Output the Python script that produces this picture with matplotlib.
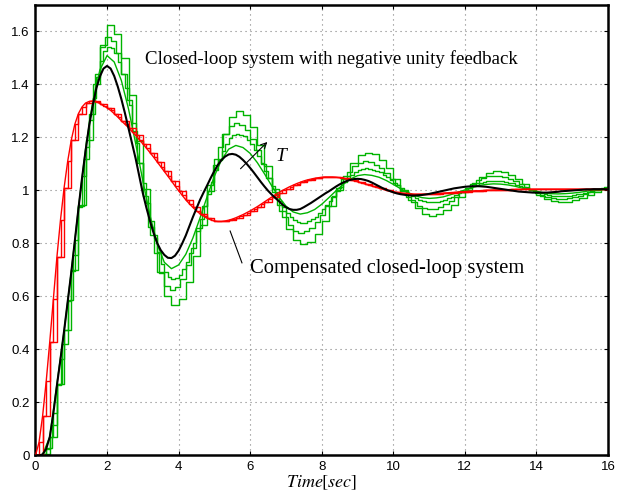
import matplotlib
matplotlib.use('Agg')
import numpy as np
import matplotlib.pyplot as plt

plt.rcParams['mathtext.fontset'] = 'stix'

# ---------------- data ----------------
# continuous closed-loop step response (sampled every 0.1 s)
black_dt = 0.1
black_v = [0.000, 0.000, 0.004, 0.025, 0.070, 0.160, 0.265, 0.365, 0.470, 0.580,
           0.690, 0.810, 0.930, 1.045, 1.150, 1.245, 1.320, 1.385, 1.430, 1.460,
           1.470, 1.460, 1.432, 1.392, 1.345, 1.292, 1.235, 1.178, 1.120, 1.055,
           0.990, 0.935, 0.885, 0.840, 0.802, 0.775, 0.757, 0.746, 0.745, 0.754,
           0.773, 0.800, 0.830, 0.865, 0.900, 0.933, 0.965, 0.993, 1.020, 1.048,
           1.074, 1.097, 1.115, 1.128, 1.136, 1.138, 1.135, 1.127, 1.115, 1.101,
           1.085, 1.068, 1.050, 1.032, 1.015, 0.999, 0.985, 0.972, 0.960, 0.947,
           0.937, 0.930, 0.927, 0.927, 0.930, 0.937, 0.945, 0.953, 0.962, 0.971,
           0.980, 0.989, 0.997, 1.006, 1.015, 1.023, 1.030, 1.036, 1.040, 1.043,
           1.044, 1.043, 1.040, 1.036, 1.030, 1.023, 1.016, 1.009, 1.003, 0.998,
           0.993, 0.989, 0.986, 0.984, 0.982, 0.981, 0.981, 0.982, 0.983, 0.985,
           0.987, 0.990, 0.993, 0.996, 0.999, 1.002, 1.005, 1.008, 1.010, 1.012,
           1.014, 1.015, 1.016, 1.016, 1.016, 1.015, 1.014, 1.012, 1.010, 1.008,
           1.006, 1.004, 1.002, 1.000, 0.998, 0.996, 0.995, 0.994, 0.993, 0.992,
           0.992, 0.992, 0.992, 0.992, 0.993, 0.994, 0.995, 0.997, 0.998, 0.999,
           1.000, 1.001, 1.002, 1.003, 1.004, 1.004, 1.005, 1.005, 1.005, 1.005,
           1.004]

# sampled systems (uncompensated), sampling periods T
g1_T = 0.05   # drawn through values every 0.2 s
g1_dt = 0.2
g1_v = [0, 0.004, 0.07, 0.27, 0.47, 0.692, 0.932, 1.157, 1.335, 1.455,
        1.509, 1.485, 1.415, 1.308, 1.177, 1.037, 0.906, 0.799, 0.729, 0.705,
        0.719, 0.759, 0.821, 0.897, 0.978, 1.054, 1.116, 1.156, 1.170, 1.162,
        1.140, 1.105, 1.063, 1.018, 0.976, 0.941, 0.919, 0.911, 0.916, 0.928,
        0.948, 0.973, 0.999, 1.023, 1.043, 1.056, 1.060, 1.057, 1.050, 1.038,
        1.023, 1.007, 0.993, 0.981, 0.973, 0.970, 0.972, 0.976, 0.984, 0.993,
        1.002, 1.011, 1.019, 1.023, 1.025, 1.024, 1.021, 1.016, 1.009, 1.003,
        0.997, 0.991, 0.988, 0.987, 0.988, 0.990, 0.993, 0.997, 1.001, 1.004,
        1.007]

g2_T = 0.1
g2_v = [0, 0, 0.004, 0.025, 0.07, 0.16, 0.265, 0.365, 0.472, 0.583,
        0.695, 0.815, 0.936, 1.055, 1.165, 1.265, 1.35, 1.43, 1.49, 1.528,
        1.543, 1.536, 1.517, 1.484, 1.440, 1.386, 1.324, 1.254, 1.180, 1.104,
        1.028, 0.954, 0.885, 0.822, 0.768, 0.724, 0.692, 0.672, 0.665, 0.669,
        0.682, 0.702, 0.729, 0.763, 0.802, 0.846, 0.892, 0.940, 0.987, 1.033,
        1.077, 1.116, 1.150, 1.177, 1.197, 1.210, 1.214, 1.211, 1.204, 1.191,
        1.175, 1.154, 1.130, 1.103, 1.075, 1.046, 1.016, 0.988, 0.961, 0.937,
        0.916, 0.900, 0.887, 0.880, 0.877, 0.879, 0.883, 0.891, 0.901, 0.914,
        0.929, 0.945, 0.962, 0.980, 0.998, 1.015, 1.032, 1.046, 1.059, 1.069,
        1.077, 1.081, 1.083, 1.082, 1.079, 1.074, 1.068, 1.060, 1.051, 1.041,
        1.030, 1.019, 1.008, 0.997, 0.987, 0.978, 0.970, 0.964, 0.959, 0.956,
        0.955, 0.956, 0.958, 0.961, 0.965, 0.970, 0.976, 0.982, 0.989, 0.996,
        1.003, 1.010, 1.017, 1.022, 1.027, 1.032, 1.035, 1.036, 1.037, 1.037,
        1.035, 1.033, 1.030, 1.027, 1.022, 1.018, 1.013, 1.008, 1.002, 0.997,
        0.993, 0.989, 0.985, 0.982, 0.980, 0.978, 0.978, 0.978, 0.979, 0.981,
        0.982, 0.985, 0.987, 0.990, 0.993, 0.997, 1.000, 1.003, 1.006, 1.008,
        1.011]

g3_T = 0.15
g3_v = [0, 0.002, 0.03, 0.115, 0.27, 0.42, 0.585, 0.755, 0.94, 1.12,
        1.29, 1.44, 1.54, 1.581, 1.565, 1.517, 1.441, 1.342, 1.226, 1.103,
        0.980, 0.864, 0.765, 0.689, 0.641, 0.625, 0.636, 0.667, 0.717, 0.783,
        0.859, 0.940, 1.021, 1.098, 1.163, 1.213, 1.244, 1.255, 1.248, 1.227,
        1.195, 1.151, 1.101, 1.048, 0.995, 0.944, 0.901, 0.869, 0.848, 0.841,
        0.846, 0.859, 0.880, 0.908, 0.941, 0.976, 1.010, 1.043, 1.071, 1.092,
        1.105, 1.110, 1.107, 1.098, 1.084, 1.065, 1.043, 1.020, 0.997, 0.975,
        0.956, 0.942, 0.933, 0.930, 0.932, 0.938, 0.948, 0.962, 0.977, 0.993,
        1.009, 1.025, 1.038, 1.048, 1.054, 1.056, 1.055, 1.050, 1.043, 1.034,
        1.023, 1.012, 1.001, 0.990, 0.981, 0.974, 0.970, 0.968, 0.969, 0.972,
        0.976, 0.981, 0.987, 0.994, 1.001, 1.007, 1.012, 1.016]

g4_T = 0.2
g4_v = [0, 0.004, 0.07, 0.27, 0.475, 0.70, 0.945, 1.19, 1.40, 1.55,
        1.623, 1.591, 1.500, 1.359, 1.188, 1.004, 0.832, 0.692, 0.601, 0.569,
        0.591, 0.654, 0.752, 0.870, 0.998, 1.117, 1.214, 1.277, 1.299, 1.284,
        1.240, 1.173, 1.092, 1.004, 0.922, 0.856, 0.812, 0.797, 0.807, 0.837,
        0.884, 0.940, 1.000, 1.056, 1.103, 1.133, 1.143, 1.136, 1.115, 1.083,
        1.045, 1.003, 0.964, 0.933, 0.912, 0.905, 0.910, 0.925, 0.947, 0.974,
        1.003, 1.030, 1.052, 1.067, 1.072, 1.068, 1.058, 1.043, 1.024, 1.003,
        0.984, 0.969, 0.959, 0.955, 0.957, 0.963, 0.972, 0.984, 0.996, 1.008,
        1.017]

# compensated closed-loop system (every 0.1 s)
red_dt = 0.1
red_v = [0, 0.05, 0.15, 0.28, 0.43, 0.59, 0.75, 0.89, 1.01, 1.11,
         1.19, 1.25, 1.29, 1.315, 1.33, 1.336, 1.338, 1.335, 1.328, 1.320,
         1.312, 1.302, 1.290, 1.277, 1.263, 1.250, 1.237, 1.222, 1.208, 1.192,
         1.176, 1.160, 1.143, 1.126, 1.108, 1.090, 1.072, 1.054, 1.036, 1.017,
         0.999, 0.982, 0.965, 0.950, 0.936, 0.923, 0.912, 0.903, 0.895, 0.889,
         0.885, 0.883, 0.883, 0.885, 0.888, 0.892, 0.897, 0.903, 0.909, 0.916,
         0.923, 0.931, 0.939, 0.948, 0.957, 0.966, 0.975, 0.984, 0.992, 1.000,
         1.007, 1.014, 1.020, 1.026, 1.031, 1.036, 1.040, 1.043, 1.046, 1.048,
         1.050, 1.051, 1.051, 1.051, 1.050, 1.048, 1.046, 1.043, 1.040, 1.037,
         1.033, 1.029, 1.025, 1.021, 1.017, 1.013, 1.009, 1.005, 1.001, 0.998,
         0.995, 0.993, 0.991, 0.989, 0.988, 0.987, 0.986, 0.986, 0.986, 0.986,
         0.986, 0.987, 0.988, 0.989, 0.990, 0.991, 0.992, 0.993, 0.994, 0.995,
         0.996, 0.997, 0.998, 0.999, 0.999, 1.000, 1.001, 1.001, 1.002, 1.002,
         1.003, 1.003, 1.003, 1.004, 1.004, 1.004, 1.004, 1.005, 1.005, 1.005,
         1.005, 1.005, 1.005, 1.005, 1.005, 1.005, 1.005, 1.005, 1.005, 1.005,
         1.005, 1.005, 1.005, 1.005, 1.005, 1.005, 1.005, 1.004, 1.004, 1.004,
         1.004]
red_stair_periods = [0.1, 0.2]

x_ticks = [0, 2, 4, 6, 8, 10, 12, 14, 16]
y_ticks = [0, 0.2, 0.4, 0.6, 0.8, 1.0, 1.2, 1.4, 1.6]
y_ticklabels = ['0', '0.2', '0.4', '0.6', '0.8', '1', '1.2', '1.4', '1.6']

title_text = 'Closed-loop system with negative unity feedback'
comp_text = 'Compensated closed-loop system'

# ---------------- drawing ----------------
GREEN = '#00b400'
RED = '#ff0000'

fig = plt.figure(figsize=(6.29, 4.93), dpi=100)
ax = fig.add_axes([0.0564, 0.0761, 0.9102, 0.9138])

def tgrid(n, dt):
    return np.arange(n) * dt

# green sampled responses
ax.plot(tgrid(len(g1_v), g1_dt), g1_v, color=GREEN, lw=1.0, zorder=2)
for T, vals in [(g2_T, g2_v), (g3_T, g3_v), (g4_T, g4_v)]:
    ax.step(tgrid(len(vals), T), vals, where='post', color=GREEN, lw=1.0, zorder=2)

# red compensated responses
red_t = tgrid(len(red_v), red_dt)
ax.plot(red_t, red_v, color=RED, lw=1.0, zorder=3)
for T in red_stair_periods:
    k = int(round(T / red_dt))
    ax.step(red_t[::k], red_v[::k], where='post', color=RED, lw=1.0, zorder=3)

# black continuous response
ax.plot(tgrid(len(black_v), black_dt), black_v, color='black', lw=1.5, zorder=4)

ax.set_xlim(0, 16)
ax.set_ylim(0, 1.7)
ax.set_xticks(x_ticks)
ax.set_yticks(y_ticks)
ax.set_yticklabels(y_ticklabels)
ax.tick_params(direction='in', length=3, width=0.8, top=True, right=True,
               labelsize=9.5, pad=4)
for lab in ax.get_xticklabels() + ax.get_yticklabels():
    lab.set_fontfamily('Liberation Sans')
ax.grid(True, color='#808080', linestyle=(0, (1, 3.5)), linewidth=0.8)
for s in ax.spines.values():
    s.set_linewidth(1.8)

ax.set_xlabel(r'$Time[sec]$', fontsize=13, labelpad=0.5)

ax.text(3.06, 1.495, title_text, fontsize=13.6, family='Liberation Serif',
        ha='left', va='center', zorder=5)
ax.text(6.0, 0.705, comp_text, fontsize=14.8, family='Liberation Serif',
        ha='left', va='center', zorder=5)
ax.text(6.72, 1.13, 'T', fontsize=14, family='Liberation Serif', style='italic',
        ha='left', va='center', zorder=5)
ax.annotate('', xy=(6.48, 1.183), xytext=(5.73, 1.082),
            arrowprops=dict(arrowstyle='->', lw=0.8, color='black',
                            shrinkA=0, shrinkB=0), zorder=5)
ax.plot([5.44, 5.77], [0.847, 0.727], color='black', lw=0.8, zorder=5)

fig.savefig('out.png', dpi=100)
